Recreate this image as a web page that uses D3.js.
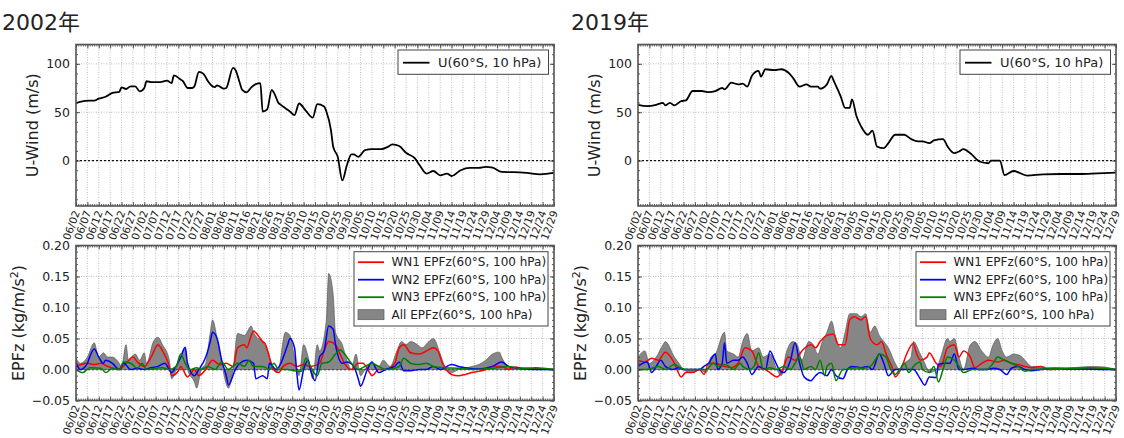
<!DOCTYPE html>
<html>
<head>
<meta charset="utf-8">
<script src="https://cdn.jsdelivr.net/npm/d3@7"></script>
<style>
  body { margin: 0; background: #fff; }
  svg { display: block; }
  text { font-family: "DejaVu Sans", "Noto Sans CJK JP", sans-serif; fill: #222; }
</style>
</head>
<body>
<div id="chart"></div>
<script>
// day offsets counted from 06/02
var years = ["2002年", "2019年"];
var majorDays = d3.range(0, 211, 5);
var uTicks = [0, 50, 100];
var epTicks = [-0.05, 0, 0.05, 0.10, 0.15, 0.20];
var uLegend = "U(60°S, 10 hPa)";
var epLegend = ["WN1 EPFz(60°S, 100 hPa)", "WN2 EPFz(60°S, 100 hPa)", "WN3 EPFz(60°S, 100 hPa)", "All EPFz(60°S, 100 hPa)"];

var u2002 = [[0,59.4],[4,61.8],[8,62],[10,64],[13,66],[16,70],[19,71],[20,75.7],[22,74],[24,76.7],[26,76.7],[28,71.5],[30,75],[31,82],[33,81],[37,81],[40,82.6],[42,80],[43,88],[46,83.7],[47,82],[49,75],[51,75],[52,76.7],[54,91.7],[56,89.6],[58,82],[60,76.7],[61,76],[62,77.8],[65,74.3],[66,75],[69,95.8],[70,94],[72,80],[73,73],[75,70.5],[77,75.7],[79,79],[81,80],[82,50.7],[84,53],[86,73],[87,70],[89,59.4],[90,57.6],[92,54],[94,50.7],[96,47],[98,59],[101,51.4],[104,44.4],[106,58.3],[109,56],[110,50.7],[112,31.6],[113,14.2],[115,3.8],[117,-20.5],[119,-4.9],[121,6.3],[122,6.3],[124,3.8],[127,10.8],[130,11.8],[134,11.8],[137,14.2],[139,16.7],[142,15],[145,8],[149,2],[151,-4.9],[154,-13.5],[157,-10.8],[160,-15.3],[163,-13.5],[165,-16],[169,-10],[173,-7.6],[177,-7.6],[180,-6.6],[183,-7.3],[187,-11.8],[192,-12],[198,-12.8],[204,-14.2],[210,-12.8]];

var u2019 = [[0,57.6],[4,56.3],[8,57.6],[11,59.7],[12,57],[14,59.7],[16,57],[19,61.5],[21,62.2],[24,71.9],[28,71.9],[31,70.8],[34,71.9],[37,75],[38,73.6],[41,80.6],[44,78.8],[46,79.5],[48,76.4],[50,87.5],[53,92.7],[54,86.8],[56,94.4],[60,93.4],[63,94.4],[66,91],[68,85.8],[71,76.4],[74,78.8],[76,76.4],[79,76.4],[80,74.3],[83,78.8],[85,87.5],[86,82.3],[89,66.7],[91,54.5],[93,54.5],[94,63.2],[96,45.8],[98,35.4],[101,26.7],[103,30.9],[105,14.6],[108,12.8],[110,18],[113,26.7],[117,26.7],[120,22.2],[123,19.8],[125,19.8],[128,18],[130,20.8],[134,22.2],[136,14.6],[139,7.6],[141,9.4],[143,11.8],[146,7.6],[150,-1],[154,-2.8],[155,0],[159,0],[161,-15],[165,-10.8],[171,-15.6],[178,-14.2],[186,-13.9],[194,-13.9],[202,-13.2],[210,-12.5]];

var all2002 = [[0,0.018],[2,0.01],[5,0.02],[8,0.043],[10,0.02],[12,0.027],[14,0.02],[16,0.02],[19,0.01],[20,0.005],[22,0.04],[23,0.015],[26,0.025],[28,0.015],[30,0.027],[31,0.01],[34,0.045],[36,0.052],[38,0.04],[41,0.015],[42,-0.015],[44,0],[46,0.02],[48,0.035],[49,0],[52,-0.02],[53,-0.03],[55,0],[57,0.01],[59,0.06],[60,0.08],[62,0.05],[64,0.01],[67,-0.03],[69,0],[71,0.058],[74,0.055],[77,0.07],[78,0.06],[80,0.05],[82,0.045],[85,0.02],[86,0.01],[88,-0.005],[89,0],[92,0.06],[94,0.055],[96,0.02],[98,-0.01],[100,0.04],[102,0.02],[104,-0.015],[106,0.04],[107,0.03],[110,0.08],[111,0.155],[113,0.12],[114,0.06],[117,0.04],[119,0.015],[121,0],[123,0.025],[125,-0.01],[127,0],[130,0.01],[133,0.005],[135,0.015],[138,0.005],[141,0.03],[143,0.045],[145,0.04],[147,0.045],[150,0.04],[152,0.035],[155,0.045],[157,0.05],[160,0.025],[162,0.005],[165,-0.005],[168,0],[171,0.002],[174,0.005],[177,0.008],[180,0.015],[183,0.025],[186,0.028],[187,0.02],[190,0.005],[193,0.003],[197,0.003],[202,0.002],[210,0]];
var wn1_2002 = [[0,0.005],[5,0.01],[8,0.008],[11,0.01],[14,0.005],[19,0],[22,0.01],[25,0.02],[27,0.012],[30,0.005],[33,0.02],[36,0.04],[38,0.03],[41,0.005],[42,-0.01],[45,-0.002],[46,0.005],[49,-0.012],[52,0],[54,-0.01],[57,0],[60,0.015],[63,0.008],[66,0.01],[69,0.005],[71,0.035],[74,0.04],[75,0.035],[77,0.055],[78,0.062],[80,0.055],[82,0.045],[83,0.042],[85,0.02],[86,0.005],[89,-0.005],[91,0.005],[94,0.01],[97,0.005],[100,0.008],[103,0.005],[107,0.01],[109,0.03],[111,0.045],[114,0.04],[116,0.025],[118,0.01],[121,0],[124,0.01],[126,0.01],[129,-0.005],[130,-0.01],[133,0],[136,0],[140,0.01],[142,0.035],[144,0.04],[147,0.027],[151,0.025],[154,0.03],[157,0.035],[159,0.03],[161,0.01],[165,-0.008],[168,-0.01],[171,-0.008],[174,-0.005],[177,-0.003],[180,0],[183,0.005],[187,0.005],[190,0],[193,0.004],[196,0.002],[202,0.001],[210,0]];
var wn2_2002 = [[0,0.01],[2,0],[5,0.01],[6,0.02],[8,0.033],[10,0.02],[12,0.01],[13,0.015],[16,0.01],[19,0],[21,0.01],[24,0],[27,0.002],[30,0],[33,0.003],[36,0.005],[39,0.01],[42,-0.005],[44,0.005],[46,0.02],[48,0.036],[49,0.01],[52,-0.01],[54,0],[57,0.02],[59,0.045],[60,0.06],[62,0.05],[64,0.015],[66,-0.01],[67,-0.025],[70,0],[72,0.01],[75,0.015],[78,0.01],[79,-0.015],[82,-0.01],[84,-0.015],[85,0.01],[88,0],[90,0.01],[93,0.04],[94,0.05],[96,0.035],[97,-0.005],[98,-0.033],[100,0],[102,0.015],[103,0],[105,-0.018],[107,0.02],[109,0.03],[111,0.07],[113,0.065],[114,0.04],[117,0.01],[119,0.012],[122,0.005],[124,-0.015],[125,-0.027],[128,0],[130,0.012],[133,-0.005],[136,0],[140,0.005],[142,0.012],[144,-0.002],[147,-0.002],[151,0],[154,0],[157,0.005],[160,0],[165,0.008],[168,0.005],[171,0.003],[177,0.001],[183,0.005],[187,0.012],[190,0.005],[194,0.002],[202,0],[210,0]];
var wn3_2002 = [[0,0],[3,-0.005],[6,0.003],[11,0.002],[13,-0.005],[16,0.002],[19,0],[21,0.012],[24,0.01],[27,0.002],[29,0.01],[31,0],[35,0.002],[38,0.003],[41,0],[44,0.005],[46,0.025],[48,0.01],[50,0],[53,0.003],[55,0],[58,0.005],[61,0],[64,0.012],[67,0],[69,0.005],[71,0.01],[74,0.005],[76,0.015],[78,0.005],[82,0.005],[85,0],[87,0.01],[89,0],[93,0],[96,-0.002],[99,-0.003],[101,0.018],[103,0.005],[106,-0.01],[108,0.01],[111,0.012],[114,0.025],[116,0.032],[118,0.025],[121,0.01],[124,0],[127,0.005],[130,0.01],[133,0.005],[136,0],[140,0.002],[142,0.005],[144,0.018],[147,0.01],[150,0.008],[154,0.01],[157,0.005],[161,0.003],[168,0.002],[174,0],[183,0.002],[190,0.005],[196,0.001],[202,0.003],[210,0]];

var all2019 = [[0,0.02],[3,0.03],[5,0.01],[8,0.02],[11,0.04],[12,0.045],[16,0.02],[18,0.01],[20,0],[23,-0.005],[27,0],[30,-0.005],[32,0.02],[34,0.025],[38,0.06],[39,0.03],[42,0.025],[44,0.02],[46,0.045],[48,0.058],[50,0.03],[53,0.035],[55,0.02],[58,0.025],[61,0],[63,-0.01],[65,0.025],[68,0.045],[70,0.04],[72,0.015],[75,0.045],[77,0.04],[79,0.025],[81,0.045],[83,0.06],[85,0.078],[87,0.05],[89,0.035],[91,0.06],[93,0.09],[96,0.09],[98,0.085],[100,0.09],[102,0.06],[104,0.07],[106,0.055],[108,0.045],[110,0.035],[113,0.01],[115,0],[117,0.01],[120,0.02],[121,0.045],[124,0.025],[126,0.01],[128,-0.005],[131,0],[133,0.02],[136,0.05],[137,0.045],[139,0.05],[141,0.02],[143,0],[146,0.04],[148,0.045],[151,0.03],[154,0.02],[156,0.04],[158,0.05],[160,0.03],[162,0.02],[165,0.025],[168,0.022],[170,0.015],[173,0.005],[177,0.005],[180,0.003],[186,0.002],[192,0.003],[199,0.005],[205,0.004],[210,0]];
var wn1_2019 = [[0,0.015],[3,0.012],[6,0.018],[9,0.015],[12,0.028],[14,0.022],[16,0.01],[19,-0.012],[21,-0.005],[24,-0.005],[27,0],[29,-0.008],[31,0.01],[34,0.01],[38,0.005],[41,0.003],[44,0.01],[47,0.035],[50,0.03],[53,0.005],[56,0],[58,-0.005],[61,-0.012],[63,-0.005],[66,0.02],[69,0.015],[72,0.03],[76,0.04],[78,0.035],[80,0.045],[83,0.055],[86,0.057],[88,0.04],[91,0.04],[93,0.08],[95,0.085],[98,0.08],[100,0.085],[102,0.05],[105,0.04],[107,0.045],[109,0.025],[112,0],[113,-0.012],[116,0.005],[118,0.025],[121,0.042],[122,0.03],[124,0.015],[127,0.02],[128,0.027],[131,0.01],[133,0.005],[136,0.035],[139,0.04],[141,0.02],[143,0.03],[146,0.02],[148,0.003],[151,0.01],[154,0.015],[158,0.012],[161,0.015],[164,0.01],[167,0.008],[170,0.005],[173,0.003],[177,0.005],[180,0],[186,0.001],[194,0.002],[202,0.001],[210,0]];
var wn2_2019 = [[0,0.005],[4,0.012],[6,-0.005],[8,0.005],[10,0.015],[12,0.005],[15,0],[18,0.003],[20,0],[23,0],[27,0],[29,0.005],[31,0.01],[34,0.025],[35,0],[37,0.01],[38,0.043],[39,0.01],[42,0.015],[44,0.015],[46,0.02],[48,0.01],[50,-0.008],[53,0.005],[56,0],[58,0.03],[60,0.015],[62,0],[64,-0.005],[67,0.015],[69,0.043],[71,0.01],[73,-0.012],[76,-0.018],[78,-0.01],[80,-0.005],[83,-0.01],[85,0],[87,-0.01],[90,-0.015],[92,0],[94,0.005],[98,0.003],[101,0.005],[103,0],[106,0.025],[108,0.01],[110,-0.01],[113,0],[115,0],[118,0],[121,0],[124,-0.015],[126,-0.025],[128,-0.012],[131,-0.013],[132,0.008],[135,0.01],[137,0.01],[139,0.025],[141,0],[143,0],[147,0.002],[150,0],[153,0],[156,0.002],[159,0],[162,-0.008],[164,0.002],[167,0.005],[170,0],[173,-0.002],[177,0],[183,0.002],[189,0.001],[197,0.001],[205,0],[210,0]];
var wn3_2019 = [[0,0],[4,0],[9,0.005],[12,0],[16,0.008],[19,0.002],[22,0],[27,0],[30,0],[33,0.01],[35,0.005],[38,0.008],[40,0.005],[42,0],[45,0.01],[46,0.005],[49,0],[51,0.005],[53,0.027],[55,0],[58,0.003],[61,0],[64,0.005],[67,0],[69,0.01],[71,0.02],[73,0],[76,0.005],[78,0],[80,0.015],[82,-0.01],[83,0.005],[85,0.01],[87,-0.018],[90,0],[91,0],[93,0.002],[96,0.003],[99,0.002],[102,0.005],[105,0.02],[106,0.025],[109,0.02],[111,0],[113,-0.008],[115,0],[117,0.01],[119,-0.005],[121,0.005],[124,0.012],[125,0],[128,-0.005],[130,0.005],[132,-0.02],[134,0],[136,0.02],[139,0.015],[141,0.005],[143,-0.005],[147,0],[150,0],[153,0],[156,0.01],[158,0.02],[161,0.015],[164,0.01],[167,0.005],[170,-0.003],[173,0],[180,0.001],[186,0.002],[192,0.002],[199,0.003],[205,0.002],[210,0]];

var waveColors = ["#ff0000", "#0000ff", "#008000"];

var W = 1124, H = 438;
var svg = d3.select("#chart").append("svg")
    .attr("width", W)
    .attr("height", H);

var baseDate = new Date(Date.UTC(2002, 5, 2));
var fmtDay = d3.utcFormat("%m/%d");
function dayLabel(d) {
    return fmtDay(d3.utcDay.offset(baseDate, d));
}

var panelW = 478;
var topBox = {top: 44.5, height: 161.5};
var botBox = {top: 245.5, height: 155};
var lefts = [76, 638];
var clipN = 0;

function frame(g, x, y, w, h, yTicks) {
    // dotted grid
    g.append("g").selectAll("line").data(majorDays).enter().append("line")
        .attr("x1", function(d){ return x(d); })
        .attr("x2", function(d){ return x(d); })
        .attr("y1", 0).attr("y2", h)
        .attr("stroke", "#b0b0b0").attr("stroke-width", 0.8)
        .attr("stroke-dasharray", "1,1.5");
    g.append("g").selectAll("line").data(yTicks).enter().append("line")
        .attr("x1", 0).attr("x2", w)
        .attr("y1", function(d){ return y(d); })
        .attr("y2", function(d){ return y(d); })
        .attr("stroke", "#b0b0b0").attr("stroke-width", 0.8)
        .attr("stroke-dasharray", "1,1.5");

    // zero line
    g.append("line")
        .attr("x1", 0).attr("x2", w)
        .attr("y1", y(0)).attr("y2", y(0))
        .attr("stroke", "#111").attr("stroke-width", 1.3)
        .attr("stroke-dasharray", "2,2");
}

function axes(g, x, y, w, h, yTicks, yMinor, yFmt) {
    var allDays = d3.range(0, 211, 1);

    g.append("g").attr("transform", "translate(0," + h + ")")
        .call(d3.axisBottom(x).tickValues(allDays).tickSize(-2).tickSizeOuter(0).tickFormat(""));
    g.append("g")
        .call(d3.axisTop(x).tickValues(allDays).tickSize(-2).tickSizeOuter(0).tickFormat(""));
    g.append("g")
        .call(d3.axisTop(x).tickValues(majorDays).tickSize(-4).tickSizeOuter(0).tickFormat(""));
    var xAx = g.append("g").attr("transform", "translate(0," + h + ")")
        .call(d3.axisBottom(x).tickValues(majorDays).tickSize(-4).tickSizeOuter(0).tickFormat(dayLabel));
    xAx.selectAll("text")
        .attr("font-size", "10.5px")
        .attr("text-anchor", "end")
        .attr("dy", "0.35em")
        .attr("transform", "translate(0,5) rotate(-70)")
        .attr("y", 0).attr("x", 0);

    g.append("g")
        .call(d3.axisLeft(y).tickValues(yMinor).tickSize(-2).tickSizeOuter(0).tickFormat(""));
    g.append("g").attr("transform", "translate(" + w + ",0)")
        .call(d3.axisRight(y).tickValues(yMinor).tickSize(-2).tickSizeOuter(0).tickFormat(""));
    g.append("g").attr("transform", "translate(" + w + ",0)")
        .call(d3.axisRight(y).tickValues(yTicks).tickSize(-4).tickSizeOuter(0).tickFormat(""));
    var yAx = g.append("g")
        .call(d3.axisLeft(y).tickValues(yTicks).tickSize(-4).tickSizeOuter(0).tickPadding(6).tickFormat(yFmt));
    yAx.selectAll("text").attr("font-size", "12.5px");

    g.selectAll(".domain").remove();
    g.selectAll(".tick line").attr("stroke", "#333").attr("stroke-width", 0.8);

    g.append("rect")
        .attr("width", w).attr("height", h)
        .attr("fill", "none")
        .attr("stroke", "#555").attr("stroke-width", 1.6);
}

function clipFor(g, w, h) {
    var id = "clip" + (clipN++);
    g.append("clipPath").attr("id", id)
        .append("rect").attr("width", w).attr("height", h);
    return "url(#" + id + ")";
}

function uPanel(i, series) {
    var g = svg.append("g").attr("transform", "translate(" + lefts[i] + "," + topBox.top + ")");
    var w = panelW, h = topBox.height;
    var x = d3.scaleLinear().domain([0, 210]).range([0, w]);
    var y = d3.scaleLinear().domain([-47, 120]).range([h, 0]);

    frame(g, x, y, w, h, uTicks);

    var line = d3.line()
        .x(function(d){ return x(d[0]); })
        .y(function(d){ return y(d[1]); })
        .curve(d3.curveMonotoneX);
    g.append("path")
        .datum(series)
        .attr("clip-path", clipFor(g, w, h))
        .attr("d", line)
        .attr("fill", "none")
        .attr("stroke", "#000")
        .attr("stroke-width", 1.8);

    axes(g, x, y, w, h, uTicks, d3.range(-40, 121, 10), function(d){ return d; });

    g.append("text")
        .attr("transform", "translate(-38," + (h / 2) + ") rotate(-90)")
        .attr("text-anchor", "middle")
        .attr("font-size", "16px")
        .text("U-Wind (m/s)");

    // legend
    var lg = g.append("g").attr("transform", "translate(" + (w - 156) + ",5.5)");
    lg.append("rect").attr("width", 150.5).attr("height", 24.3)
        .attr("fill", "#fff").attr("stroke", "#444").attr("stroke-width", 1);
    lg.append("line").attr("x1", 5).attr("x2", 31.5).attr("y1", 12.7).attr("y2", 12.7)
        .attr("stroke", "#000").attr("stroke-width", 1.8);
    lg.append("text").attr("x", 40).attr("y", 17.3).attr("font-size", "13px").text(uLegend);
}

function epPanel(i, all, waves) {
    var g = svg.append("g").attr("transform", "translate(" + lefts[i] + "," + botBox.top + ")");
    var w = panelW, h = botBox.height;
    var x = d3.scaleLinear().domain([0, 210]).range([0, w]);
    var y = d3.scaleLinear().domain([-0.05, 0.20]).range([h, 0]);

    frame(g, x, y, w, h, epTicks);

    var clip = clipFor(g, w, h);
    var area = d3.area()
        .x(function(d){ return x(d[0]); })
        .y0(y(0))
        .y1(function(d){ return y(d[1]); })
        .curve(d3.curveMonotoneX);
    g.append("path")
        .datum(all)
        .attr("clip-path", clip)
        .attr("d", area)
        .attr("fill", "#868686")
        .attr("stroke", "#5a5a5a")
        .attr("stroke-width", 0.7);

    var line = d3.line()
        .x(function(d){ return x(d[0]); })
        .y(function(d){ return y(d[1]); })
        .curve(d3.curveMonotoneX);
    waves.forEach(function(s, k){
        g.append("path")
            .datum(s)
            .attr("clip-path", clip)
            .attr("d", line)
            .attr("fill", "none")
            .attr("stroke", waveColors[k])
            .attr("stroke-width", 1.5);
    });

    axes(g, x, y, w, h, epTicks, d3.range(-0.05, 0.2001, 0.01), d3.format(".2f"));

    var lab = g.append("text")
        .attr("transform", "translate(-52," + (h / 2) + ") rotate(-90)")
        .attr("text-anchor", "middle")
        .attr("font-size", "16px");
    lab.append("tspan").text("EPFz (kg/m/s");
    lab.append("tspan").attr("font-size", "11px").attr("dy", "-6").text("2");
    lab.append("tspan").attr("dy", "6").text(")");

    // legend
    var lg = g.append("g").attr("transform", "translate(" + (w - 200) + ",6.2)");
    lg.append("rect").attr("width", 194).attr("height", 74.3)
        .attr("fill", "#fff").attr("stroke", "#444").attr("stroke-width", 1);
    epLegend.forEach(function(t, k){
        var yy = 10.5 + k * 17.5;
        if (k < 3) {
            lg.append("line").attr("x1", 4).attr("x2", 30).attr("y1", yy).attr("y2", yy)
                .attr("stroke", waveColors[k]).attr("stroke-width", 1.8);
        } else {
            lg.append("rect").attr("x", 4).attr("y", yy - 5).attr("width", 26).attr("height", 10)
                .attr("fill", "#868686").attr("stroke", "#5a5a5a").attr("stroke-width", 0.7);
        }
        lg.append("text").attr("x", 37.5).attr("y", yy + 4.3).attr("font-size", "12px").text(t);
    });
}

uPanel(0, u2002);
uPanel(1, u2019);
epPanel(0, all2002, [wn1_2002, wn2_2002, wn3_2002]);
epPanel(1, all2019, [wn1_2019, wn2_2019, wn3_2019]);

years.forEach(function(t, i){
    svg.append("text")
        .attr("x", i == 0 ? 2 : 571)
        .attr("y", 30)
        .attr("font-family", "'Noto Sans CJK JP', sans-serif")
        .attr("font-size", "22px")
        .text(t);
});
</script>
</body>
</html>
